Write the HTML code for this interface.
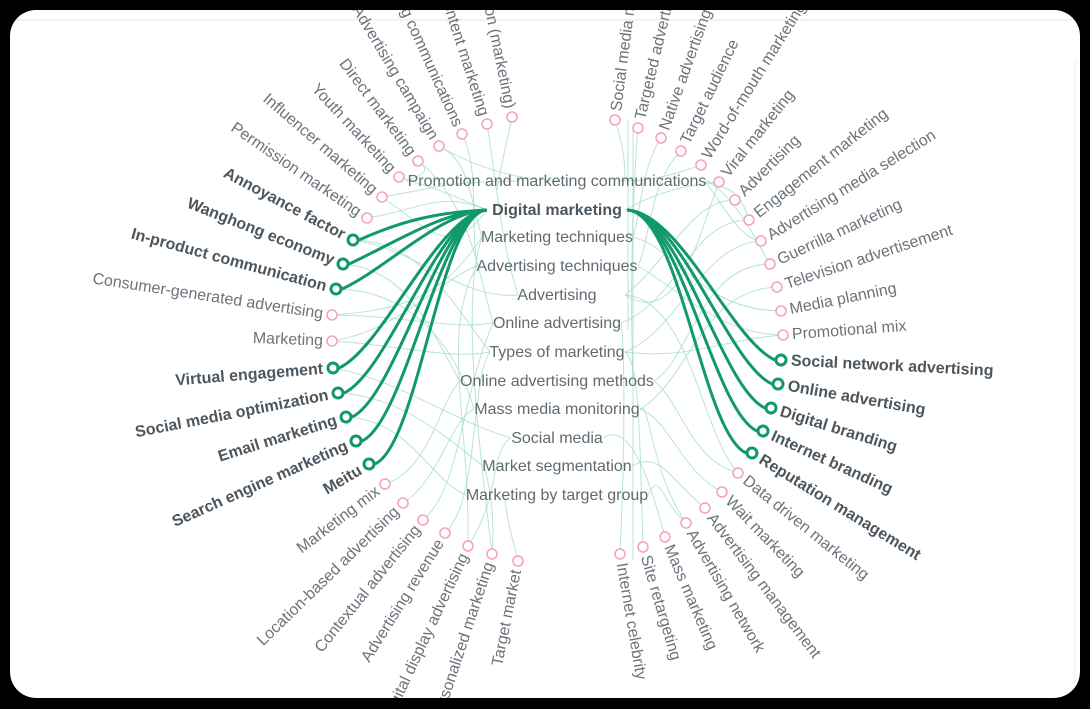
<!DOCTYPE html>
<html><head><meta charset="utf-8"><style>
html,body{margin:0;padding:0;background:#000;width:1090px;height:709px;overflow:hidden}
svg{display:block}
text{font-family:"Liberation Sans",sans-serif}
.c{font-size:16px;fill:#606a72;text-anchor:middle}
.l{font-size:16px;fill:#6b737b}
.b{font-size:16px;fill:#4c565e;font-weight:bold}
.L text{text-anchor:end}
.f path{fill:none;stroke:#9fdcc3;stroke-width:1;opacity:.75}
.g path{fill:none;stroke:#12996a;stroke-width:3}
.pk{fill:#fff;stroke:#f4a3bf;stroke-width:1.6}
.gn{fill:#fff;stroke:#12996a;stroke-width:3}
</style></head><body>
<svg width="1090" height="709" viewBox="0 0 1090 709" xmlns="http://www.w3.org/2000/svg">
<rect x="10" y="8" width="1070" height="690" rx="26" fill="#fff"/>
<line x1="10" y1="20" x2="1080" y2="20" stroke="#e6e6e6"/>
<line x1="1075" y1="60" x2="1075" y2="690" stroke="#eeeeee"/>

<g class="f">
<path d="M418,161 C440,175 400,181 408,181"/>
<path d="M399,177 C420,185 420,181 487,210"/>
<path d="M382,197 C430,190 440,181 520,181"/>
<path d="M367,218 C420,210 440,190 487,210"/>
<path d="M439,146 C470,160 470,200 482,237"/>
<path d="M462,134 C480,170 470,220 477,266"/>
<path d="M487,124 C495,170 500,240 518,295"/>
<path d="M512,117 C505,150 500,170 497,190"/>
<path d="M439,146 C480,170 520,180 560,181"/>
<path d="M418,161 C470,200 480,280 493,323"/>
<path d="M353,240 C420,240 450,300 490,352"/>
<path d="M343,264 C410,270 430,330 460,381"/>
<path d="M336,289 C400,290 450,330 474,409"/>
<path d="M332,315 C400,310 440,300 482,237"/>
<path d="M332,315 C400,315 450,330 493,323"/>
<path d="M332,341 C400,330 440,280 477,266"/>
<path d="M332,341 C400,345 450,360 490,352"/>
<path d="M333,368 C400,380 450,420 511,438"/>
<path d="M338,393 C400,395 450,440 483,466"/>
<path d="M346,417 C410,420 430,480 466,495"/>
<path d="M385,484 C430,470 440,400 460,381"/>
<path d="M403,503 C440,480 450,420 474,409"/>
<path d="M423,520 C460,490 460,400 493,323"/>
<path d="M445,533 C480,500 470,380 490,352"/>
<path d="M468,546 C500,500 490,450 511,438"/>
<path d="M492,554 C495,520 490,480 483,466"/>
<path d="M518,561 C510,530 505,510 505,495"/>
<path d="M492,554 C480,450 460,300 482,237"/>
<path d="M468,546 C470,420 440,330 477,266"/>
<path d="M353,240 C420,250 460,300 518,295"/>
<path d="M382,197 C430,230 450,260 487,210"/>

<path d="M615,120 C625,150 625,170 625,181"/>
<path d="M638,128 C632,200 630,300 633,380"/>
<path d="M661,138 C640,170 640,220 633,237"/>
<path d="M681,151 C650,180 650,240 638,266"/>
<path d="M701,165 C660,180 640,181 620,181"/>
<path d="M719,182 C690,185 660,190 625,210"/>
<path d="M735,200 C690,200 670,260 625,295"/>
<path d="M749,220 C690,220 680,300 621,323"/>
<path d="M761,241 C700,245 680,330 625,352"/>
<path d="M770,264 C700,265 690,360 654,381"/>
<path d="M777,287 C700,290 690,380 640,409"/>
<path d="M781,311 C700,310 680,250 633,237"/>
<path d="M783,335 C720,335 680,290 638,266"/>
<path d="M783,335 C720,340 690,360 625,352"/>
<path d="M738,473 C690,460 680,400 654,381"/>
<path d="M722,492 C680,470 670,420 640,409"/>
<path d="M705,508 C670,480 660,450 632,466"/>
<path d="M686,523 C660,500 660,470 648,495"/>
<path d="M665,537 C650,480 630,420 603,438"/>
<path d="M643,547 C640,450 640,360 625,352"/>
<path d="M620,554 C625,450 625,350 621,323"/>
<path d="M705,181 C720,200 740,240 761,241"/>
<path d="M707,181 C730,190 740,190 749,220"/>
<path d="M707,181 C740,200 760,250 770,264"/>
<path d="M719,182 C700,230 680,330 625,295"/>
<path d="M738,473 C700,430 690,300 625,295"/>
<path d="M686,523 C650,470 650,400 640,409"/>
<path d="M628,120 L628,330"/>
<path d="M633,130 L633,560"/>
</g>

<g class="g">
<path d="M487,210 C440,212 403,220 359,240"/>
<path d="M487,210 C440,212 393,244 349,264"/>
<path d="M487,210 C440,212 386,269 342,289"/>
<path d="M487,210 C440,212 383,348 339,368"/>
<path d="M487,210 C440,212 388,373 344,393"/>
<path d="M487,210 C440,212 396,397 352,417"/>
<path d="M487,210 C440,212 406,421 362,441"/>
<path d="M487,210 C440,212 419,444 375,464"/>
<path d="M627,210 C680,212 731,340 775,360"/>
<path d="M627,210 C680,212 728,364 772,384"/>
<path d="M627,210 C680,212 721,388 765,408"/>
<path d="M627,210 C680,212 713,411 757,431"/>
<path d="M627,210 C680,212 702,433 746,453"/>
</g>

<text class="c" x="557" y="186">Promotion and marketing communications</text>
<text class="c" x="557" y="215" style="font-weight:bold;fill:#4c565e">Digital marketing</text>
<text class="c" x="557" y="242">Marketing techniques</text>
<text class="c" x="557" y="271">Advertising techniques</text>
<text class="c" x="557" y="300">Advertising</text>
<text class="c" x="557" y="328">Online advertising</text>
<text class="c" x="557" y="357">Types of marketing</text>
<text class="c" x="557" y="386">Online advertising methods</text>
<text class="c" x="557" y="414">Mass media monitoring</text>
<text class="c" x="557" y="443">Social media</text>
<text class="c" x="557" y="471">Market segmentation</text>
<text class="c" x="557" y="500">Marketing by target group</text>

<g class="L">
<g transform="translate(512,117) rotate(78.4)"><circle class="pk" r="5"/><text class="l" x="-9" dy="5">Promotion (marketing)</text></g>
<g transform="translate(487,124) rotate(72.1)"><circle class="pk" r="5"/><text class="l" x="-9" dy="5">Content marketing</text></g>
<g transform="translate(462,134) rotate(65.6)"><circle class="pk" r="5"/><text class="l" x="-9" dy="5">Marketing communications</text></g>
<g transform="translate(439,146) rotate(59.3)"><circle class="pk" r="5"/><text class="l" x="-9" dy="5">Advertising campaign</text></g>
<g transform="translate(418,161) rotate(53.1)"><circle class="pk" r="5"/><text class="l" x="-9" dy="5">Direct marketing</text></g>
<g transform="translate(399,177) rotate(47.1)"><circle class="pk" r="5"/><text class="l" x="-9" dy="5">Youth marketing</text></g>
<g transform="translate(382,197) rotate(40.7)"><circle class="pk" r="5"/><text class="l" x="-9" dy="5">Influencer marketing</text></g>
<g transform="translate(367,218) rotate(34.4)"><circle class="pk" r="5"/><text class="l" x="-9" dy="5">Permission marketing</text></g>
<g transform="translate(353,240) rotate(28)"><circle class="gn" r="5"/><text class="b" x="-10" dy="5">Annoyance factor</text></g>
<g transform="translate(343,264) rotate(21.6)"><circle class="gn" r="5"/><text class="b" x="-10" dy="5">Wanghong economy</text></g>
<g transform="translate(336,289) rotate(15.2)"><circle class="gn" r="5"/><text class="b" x="-10" dy="5">In-product communication</text></g>
<g transform="translate(332,315) rotate(8.7)"><circle class="pk" r="5"/><text class="l" x="-9" dy="5">Consumer-generated advertising</text></g>
<g transform="translate(332,341) rotate(2.3)"><circle class="pk" r="5"/><text class="l" x="-9" dy="5">Marketing</text></g>
<g transform="translate(333,368) rotate(-4.5)"><circle class="gn" r="5"/><text class="b" x="-10" dy="5">Virtual engagement</text></g>
<g transform="translate(338,393) rotate(-11)"><circle class="gn" r="5"/><text class="b" x="-10" dy="5">Social media optimization</text></g>
<g transform="translate(346,417) rotate(-17.4)"><circle class="gn" r="5"/><text class="b" x="-10" dy="5">Email marketing</text></g>
<g transform="translate(356,441) rotate(-24)"><circle class="gn" r="5"/><text class="b" x="-10" dy="5">Search engine marketing</text></g>
<g transform="translate(369,464) rotate(-30.8)"><circle class="gn" r="5"/><text class="b" x="-10" dy="5">Meitu</text></g>
<g transform="translate(385,484) rotate(-37.4)"><circle class="pk" r="5"/><text class="l" x="-9" dy="5">Marketing mix</text></g>
<g transform="translate(403,503) rotate(-44.3)"><circle class="pk" r="5"/><text class="l" x="-9" dy="5">Location-based advertising</text></g>
<g transform="translate(423,520) rotate(-51.1)"><circle class="pk" r="5"/><text class="l" x="-9" dy="5">Contextual advertising</text></g>
<g transform="translate(445,533) rotate(-57.9)"><circle class="pk" r="5"/><text class="l" x="-9" dy="5">Advertising revenue</text></g>
<g transform="translate(468,546) rotate(-64.9)"><circle class="pk" r="5"/><text class="l" x="-9" dy="5">Digital display advertising</text></g>
<g transform="translate(492,554) rotate(-71.6)"><circle class="pk" r="5"/><text class="l" x="-9" dy="5">Personalized marketing</text></g>
<g transform="translate(518,561) rotate(-78.7)"><circle class="pk" r="5"/><text class="l" x="-9" dy="5">Target market</text></g>
</g>

<g>
<g transform="translate(615,120) rotate(-82.6)"><circle class="pk" r="5"/><text class="l" x="9" dy="5">Social media marketing</text></g>
<g transform="translate(638,128) rotate(-76.6)"><circle class="pk" r="5"/><text class="l" x="9" dy="5">Targeted advertising</text></g>
<g transform="translate(661,138) rotate(-70.3)"><circle class="pk" r="5"/><text class="l" x="9" dy="5">Native advertising</text></g>
<g transform="translate(681,151) rotate(-64.2)"><circle class="pk" r="5"/><text class="l" x="9" dy="5">Target audience</text></g>
<g transform="translate(701,165) rotate(-57.9)"><circle class="pk" r="5"/><text class="l" x="9" dy="5">Word-of-mouth marketing</text></g>
<g transform="translate(719,182) rotate(-51.4)"><circle class="pk" r="5"/><text class="l" x="9" dy="5">Viral marketing</text></g>
<g transform="translate(735,200) rotate(-45)"><circle class="pk" r="5"/><text class="l" x="9" dy="5">Advertising</text></g>
<g transform="translate(749,220) rotate(-38.4)"><circle class="pk" r="5"/><text class="l" x="9" dy="5">Engagement marketing</text></g>
<g transform="translate(761,241) rotate(-31.8)"><circle class="pk" r="5"/><text class="l" x="9" dy="5">Advertising media selection</text></g>
<g transform="translate(770,264) rotate(-24.9)"><circle class="pk" r="5"/><text class="l" x="9" dy="5">Guerrilla marketing</text></g>
<g transform="translate(777,287) rotate(-18.2)"><circle class="pk" r="5"/><text class="l" x="9" dy="5">Television advertisement</text></g>
<g transform="translate(781,311) rotate(-11.3)"><circle class="pk" r="5"/><text class="l" x="9" dy="5">Media planning</text></g>
<g transform="translate(783,335) rotate(-4.3)"><circle class="pk" r="5"/><text class="l" x="9" dy="5">Promotional mix</text></g>
<g transform="translate(781,360) rotate(2.9)"><circle class="gn" r="5"/><text class="b" x="10" dy="5">Social network advertising</text></g>
<g transform="translate(778,384) rotate(10)"><circle class="gn" r="5"/><text class="b" x="10" dy="5">Online advertising</text></g>
<g transform="translate(771,408) rotate(17.3)"><circle class="gn" r="5"/><text class="b" x="10" dy="5">Digital branding</text></g>
<g transform="translate(763,431) rotate(24.5)"><circle class="gn" r="5"/><text class="b" x="10" dy="5">Internet branding</text></g>
<g transform="translate(752,453) rotate(31.7)"><circle class="gn" r="5"/><text class="b" x="10" dy="5">Reputation management</text></g>
<g transform="translate(738,473) rotate(38.8)"><circle class="pk" r="5"/><text class="l" x="9" dy="5">Data driven marketing</text></g>
<g transform="translate(722,492) rotate(46)"><circle class="pk" r="5"/><text class="l" x="9" dy="5">Wait marketing</text></g>
<g transform="translate(705,508) rotate(52.8)"><circle class="pk" r="5"/><text class="l" x="9" dy="5">Advertising management</text></g>
<g transform="translate(686,523) rotate(59.7)"><circle class="pk" r="5"/><text class="l" x="9" dy="5">Advertising network</text></g>
<g transform="translate(665,537) rotate(66.8)"><circle class="pk" r="5"/><text class="l" x="9" dy="5">Mass marketing</text></g>
<g transform="translate(643,547) rotate(73.6)"><circle class="pk" r="5"/><text class="l" x="9" dy="5">Site retargeting</text></g>
<g transform="translate(620,554) rotate(80.3)"><circle class="pk" r="5"/><text class="l" x="9" dy="5">Internet celebrity</text></g>
</g>

<path fill="#000" fill-rule="evenodd" d="M0,0H1090V709H0Z M36,10 H1054 A26,26 0 0 1 1080,36 V672 A26,26 0 0 1 1054,698 H36 A26,26 0 0 1 10,672 V36 A26,26 0 0 1 36,10 Z"/>
</svg>
</body></html>
